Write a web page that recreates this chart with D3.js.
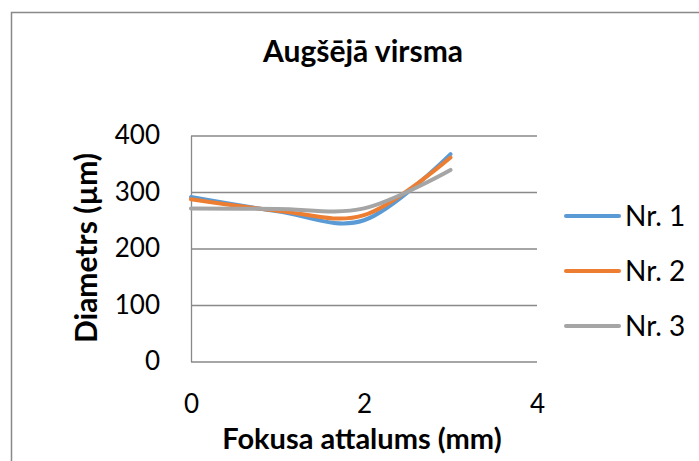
<!DOCTYPE html>
<html lang="lv">
<head>
<meta charset="UTF-8">
<title>Augšējā virsma</title>
<script src="https://cdn.jsdelivr.net/npm/d3@7"></script>
<style>
  body { margin: 0; background: #fff; }
  svg { font-family: Lato, "Open Sans", sans-serif; }
</style>
</head>
<body>
<svg class="svg"></svg>
<script>
  // focus distance (mm)
  const focus = [0, 1, 2, 3];
  const nr1 = [291, 266, 250, 367];
  const nr2 = [287, 267, 259, 361];
  const nr3 = [271, 270, 271, 339];
  const seriesNames = ['Nr. 1', 'Nr. 2', 'Nr. 3'];
  const colors = ['#5B9BD5', '#ED7D31', '#A5A5A5'];
  const xTicks = [0, 2, 4];
  const yTicks = [0, 100, 200, 300, 400];

  const w = 699, h = 461;
  const svg = d3.select('.svg').attr('width', w).attr('height', h);

  // chart frame (cut off at right and bottom like the original)
  svg.append('path')
    .attr('d', 'M11.5,' + h + 'V12.5H' + w)
    .attr('fill', 'none').attr('stroke', '#898989').attr('stroke-width', 1.5);

  const xScale = d3.scaleLinear().domain([0, 4]).range([191, 537]);
  const yScale = d3.scaleLinear().domain([0, 400]).range([361.5, 135.5]);

  // gridlines
  svg.append('g')
    .attr('transform', 'translate(' + xScale(0) + ',0)')
    .call(d3.axisRight(yScale).tickValues(yTicks).tickSize(xScale(4) - xScale(0)).tickFormat(''))
    .call(g => g.select('.domain').remove())
    .call(g => g.selectAll('line').attr('stroke', '#898989').attr('stroke-width', 1.3));

  // y axis
  const yAxis = svg.append('g')
    .attr('transform', 'translate(' + xScale(0) + ',0)')
    .call(d3.axisLeft(yScale).tickValues(yTicks).tickSize(0).tickPadding(31));
  yAxis.select('.domain').attr('stroke', '#898989').attr('stroke-width', 1.3);
  yAxis.selectAll('text').attr('font-size', 26).attr('fill', '#000')
    .attr('font-family', 'Lato, sans-serif');

  // x axis labels
  const xAxis = svg.append('g')
    .attr('transform', 'translate(0,' + yScale(0) + ')')
    .call(d3.axisBottom(xScale).tickValues(xTicks).tickSize(0).tickPadding(33)
      .tickFormat(d3.format('d')));
  xAxis.select('.domain').remove();
  xAxis.selectAll('text').attr('font-size', 26).attr('fill', '#000')
    .attr('font-family', 'Lato, sans-serif');

  // lines
  const series = [nr1, nr2, nr3];
  const line = d3.line()
    .x((d, i) => xScale(focus[i]))
    .y(d => yScale(d))
    .curve(d3.curveCardinal.tension(0));

  series.forEach((s, k) => {
    svg.append('path')
      .datum(s)
      .attr('d', line)
      .attr('fill', 'none')
      .attr('stroke', colors[k])
      .attr('stroke-width', 4)
      .attr('stroke-linecap', 'round');
  });

  // titles
  svg.append('text')
    .attr('x', 363).attr('y', 62)
    .attr('text-anchor', 'middle')
    .attr('font-size', 30).attr('font-weight', 'bold')
    .text('Augšējā virsma');

  svg.append('text')
    .attr('x', 362).attr('y', 449)
    .attr('text-anchor', 'middle')
    .attr('font-size', 29).attr('font-weight', 'bold')
    .text('Fokusa attalums (mm)');

  svg.append('text')
    .attr('transform', 'translate(97,248) rotate(-90)')
    .attr('text-anchor', 'middle')
    .attr('font-size', 30).attr('font-weight', 'bold')
    .text('Diametrs (µm)');

  // legend
  const legendY = d3.scalePoint().domain(seriesNames).range([216, 326]);
  const legend = svg.append('g');
  seriesNames.forEach((name, k) => {
    legend.append('line')
      .attr('x1', 566).attr('x2', 619)
      .attr('y1', legendY(name)).attr('y2', legendY(name))
      .attr('stroke', colors[k]).attr('stroke-width', 4)
      .attr('stroke-linecap', 'round');
    legend.append('text')
      .attr('x', 625).attr('y', legendY(name) + 10)
      .attr('font-size', 28)
      .text(name);
  });
</script>
</body>
</html>
